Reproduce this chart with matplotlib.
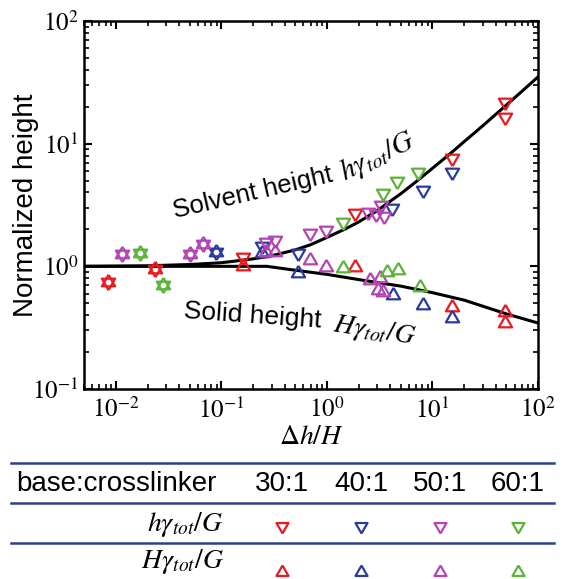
import math
import matplotlib
matplotlib.use('Agg')
import matplotlib.pyplot as plt
from matplotlib.lines import Line2D
from matplotlib.ticker import FuncFormatter, LogLocator

plt.rcParams['font.family'] = ['Liberation Sans', 'DejaVu Sans']
plt.rcParams['mathtext.fontset'] = 'stix'

# ---- data ----
# 30:1 (red)
red_h_x = [0.0084, 0.0235, 0.160, 1.84, 15.3, 48.5, 48.5]
red_h_y = [0.745, 0.95, 1.19, 2.72, 7.6, 21.8, 16.5]
red_H_x = [0.0084, 0.0235, 0.160, 1.84, 15.3, 48.5, 48.5]
red_H_y = [0.745, 0.95, 1.0, 0.99, 0.466, 0.425, 0.345]
# 40:1 (blue)
blue_h_x = [0.089, 0.243, 0.53, 4.13, 8.11, 15.3]
blue_h_y = [1.31, 1.46, 1.28, 2.98, 4.19, 5.9]
blue_H_x = [0.089, 0.243, 0.53, 4.22, 8.1, 15.3]
blue_H_y = [1.31, 1.28, 0.88, 0.58, 0.48, 0.38]
# 50:1 (magenta)
mag_h_x = [0.0115, 0.050, 0.067, 0.264, 0.322, 0.69, 0.98, 2.44, 2.91, 3.25, 3.47]
mag_h_y = [1.26, 1.26, 1.52, 1.58, 1.64, 1.87, 1.98, 2.77, 2.67, 3.16, 2.57]
mag_H_x = [0.0115, 0.050, 0.067, 0.264, 0.322, 0.69, 0.98, 2.55, 3.18, 3.04, 3.4]
mag_H_y = [1.26, 1.26, 1.52, 1.31, 1.31, 1.12, 0.99, 0.77, 0.80, 0.64, 0.62]
# 60:1 (green)
grn_h_x = [0.017, 0.028, 1.42, 3.39, 4.60, 7.28]
grn_h_y = [1.28, 0.70, 2.30, 3.95, 4.95, 5.87]
grn_H_x = [0.017, 0.028, 1.42, 3.70, 4.70, 7.6]
grn_H_y = [1.28, 0.70, 0.97, 0.90, 0.93, 0.68]

# model curves
solvent_x = [0.005, 0.02, 0.05, 0.1, 0.2, 0.3, 0.5, 0.7, 1, 1.5, 2, 3, 5, 7, 10, 15, 20, 30, 50, 70, 100]
solvent_y = [1.0, 1.01, 1.035, 1.07, 1.15, 1.22, 1.36, 1.5, 1.72, 2.02, 2.3, 2.85, 3.9, 4.9, 6.3, 8.4, 10.4, 14.0, 20.6, 26.6, 35]
solid_x = [0.005, 0.27, 0.5, 1, 2, 5, 10, 20, 50, 100]
solid_y = [1.0, 1.0, 0.93, 0.86, 0.78, 0.69, 0.61, 0.53, 0.41, 0.345]

ratios = ['30:1', '40:1', '50:1', '60:1']
colors = ['#e8191f', '#2a3b9c', '#b444b4', '#5cb338']

# equilateral triangles centred on their centroid, so an up and a down
# marker at the same point give a six-point star like in the original
TRI_UP = [(0, 1), (-0.866, -0.5), (0.866, -0.5), (0, 1)]
TRI_DOWN = [(0, -1), (-0.866, 0.5), (0.866, 0.5), (0, -1)]

W, H = 564, 579
fig = plt.figure(figsize=(W / 100, H / 100), dpi=100)

def fx(px):
    return px / W

def fy(py):
    return 1 - py / H

ax = fig.add_axes([fx(84), fy(389), (538 - 84) / W, (389 - 21) / H])

ax.plot(solvent_x, solvent_y, color='black', lw=2.2, zorder=3)
ax.plot(solid_x, solid_y, color='black', lw=2.2, zorder=3)

series = [
    (red_h_x, red_h_y, red_H_x, red_H_y),
    (blue_h_x, blue_h_y, blue_H_x, blue_H_y),
    (mag_h_x, mag_h_y, mag_H_x, mag_H_y),
    (grn_h_x, grn_h_y, grn_H_x, grn_H_y),
]
mk = dict(ls='none', mfc='none', ms=11, mew=1.6, zorder=4)
for (hx, hy, Hx, Hy), c in zip(series, colors):
    ax.plot(hx, hy, marker=TRI_DOWN, mec=c, **mk)
    ax.plot(Hx, Hy, marker=TRI_UP, mec=c, **mk)

ax.set_xscale('log')
ax.set_yscale('log')
ax.set_xlim(0.005, 100)
ax.set_ylim(0.1, 100)

fmt = FuncFormatter(lambda v, p: r'$10^{%d}$' % round(math.log10(v)))
ax.xaxis.set_major_locator(LogLocator(base=10, numticks=10))
ax.yaxis.set_major_locator(LogLocator(base=10, numticks=10))
ax.xaxis.set_major_formatter(fmt)
ax.yaxis.set_major_formatter(fmt)
ax.tick_params(which='both', direction='in', top=True, right=True, labelsize=18)
ax.tick_params(which='major', length=6, width=1.5)
ax.tick_params(which='minor', length=3.5, width=1.2)
ax.tick_params(axis='x', pad=6)
ax.tick_params(axis='y', pad=4)
for s in ax.spines.values():
    s.set_linewidth(1.8)

ax.set_ylabel('Normalized height', fontsize=20)
ax.yaxis.set_label_coords(-0.10, 0.5)
ax.set_xlabel(r'$\mathit{\Delta h/H}$', fontsize=20, labelpad=1)

# annotations
fig.text(fx(175), fy(218), 'Solvent height', fontsize=18.5, rotation=13,
         ha='left', va='baseline', rotation_mode='anchor')
fig.text(fx(344), fy(181), r'$h\gamma_{tot}/G$', fontsize=21, rotation=26,
         ha='left', va='baseline', rotation_mode='anchor')
fig.text(fx(183), fy(318), 'Solid height', fontsize=19, rotation=-4,
         ha='left', va='baseline', rotation_mode='anchor')
fig.text(fx(332), fy(331), r'$H\gamma_{tot}/G$', fontsize=20, rotation=-9,
         ha='left', va='baseline', rotation_mode='anchor')

# table below the plot
line_c = '#2d3e8f'
for py in [463, 503, 543]:
    fig.add_artist(Line2D([fx(11), fx(554)], [fy(py), fy(py)], color=line_c,
                          lw=1.8, transform=fig.transFigure))

col_px = [282, 361, 440, 518]
fig.text(fx(16), fy(484), 'base:crosslinker', fontsize=20, ha='left', va='center')
for px, r in zip(col_px, ratios):
    fig.text(fx(px), fy(484), r, fontsize=20, ha='center', va='center')

fig.text(fx(224), fy(531), r'$h\gamma_{tot}/G$', fontsize=20, ha='right', va='baseline')
fig.text(fx(224), fy(568), r'$H\gamma_{tot}/G$', fontsize=20, ha='right', va='baseline')
for px, c in zip(col_px, colors):
    fig.add_artist(Line2D([fx(px)], [fy(526)], marker=TRI_DOWN, ms=10, mfc='none',
                          mec=c, mew=1.6, transform=fig.transFigure))
    fig.add_artist(Line2D([fx(px)], [fy(572)], marker=TRI_UP, ms=10, mfc='none',
                          mec=c, mew=1.6, transform=fig.transFigure))

fig.savefig('out.png', dpi=100)
